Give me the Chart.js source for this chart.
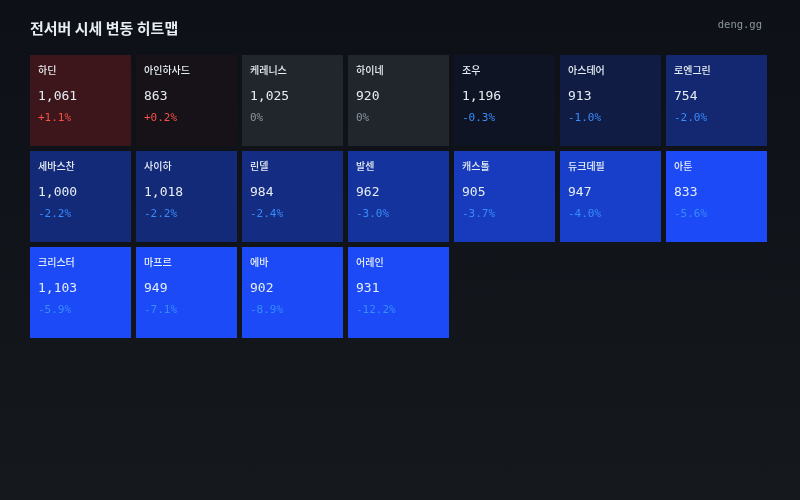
<!DOCTYPE html>
<html lang="ko">
<head>
<meta charset="utf-8">
<script src="https://cdn.jsdelivr.net/npm/chart.js@4.4.1/dist/chart.umd.min.js"></script>
<style>
    html, body { margin: 0; padding: 0; }
    body {
        width: 800px; height: 500px; overflow: hidden;
        background: linear-gradient(180deg, #0d1117 0%, #15181d 100%);
    }
    #heatmap { display: block; }
</style>
</head>
<body>
<canvas id="heatmap" width="800" height="500"></canvas>
<script>
const TITLE = '전서버 시세 변동 히트맵';
const SOURCE = 'deng.gg';

// servers, sorted by change (row-major, 7 per row)
const servers = ['하딘', '아인하사드', '케레니스', '하이네', '조우', '아스테어', '로엔그린',
    '세바스찬', '사이하', '린델', '발센', '캐스톨', '듀크데필', '아툰',
    '크리스터', '마프르', '에바', '어레인'];
const prices = [1061, 863, 1025, 920, 1196, 913, 754,
    1000, 1018, 984, 962, 905, 947, 833,
    1103, 949, 902, 931];
const changes = [1.1, 0.2, 0, 0, -0.3, -1.0, -2.0,
    -2.2, -2.2, -2.4, -3.0, -3.7, -4.0, -5.6,
    -5.9, -7.1, -8.9, -12.2];
const columns = ['1', '2', '3', '4', '5', '6', '7'];

const COLS = columns.length;
const ROWS = Math.ceil(servers.length / COLS);

const BASE = [13, 17, 23];
const BLUE = [27, 74, 246];
const RED = [230, 40, 40];

function mix(a, b, t) {
    const c = a.map((v, i) => Math.round(v + (b[i] - v) * t));
    return `rgb(${c[0]}, ${c[1]}, ${c[2]})`;
}

function tileColor(pct) {
    if (pct === 0) return '#21262d';
    const t = Math.min(Math.abs(pct) / 5, 1);
    return mix(BASE, pct > 0 ? RED : BLUE, t);
}

function changeColor(pct) {
    if (pct === 0) return '#8b949e';
    return pct > 0 ? '#f85149' : '#388bfd';
}

function fmtChange(pct) {
    if (pct === 0) return '0%';
    return (pct > 0 ? '+' : '') + pct.toFixed(1) + '%';
}

// one dataset per grid row, floating bars [row, row + cell]
const datasets = [];
for (let r = 0; r < ROWS; r++) {
    const data = [], colors = [];
    for (let c = 0; c < COLS; c++) {
        const i = r * COLS + c;
        if (i < servers.length) {
            data.push([r, r + 91 / 96]);
            colors.push(tileColor(changes[i]));
        } else {
            data.push(null);
            colors.push('transparent');
        }
    }
    datasets.push({
        data: data,
        backgroundColor: colors,
        borderWidth: 0,
        grouped: false,
        barPercentage: 1,
        categoryPercentage: 101 / 106
    });
}

const tileText = {
    id: 'tileText',
    afterDatasetsDraw(chart) {
        const ctx = chart.ctx;
        ctx.save();
        ctx.textBaseline = 'middle';
        ctx.textAlign = 'left';
        chart.data.datasets.forEach((ds, r) => {
            chart.getDatasetMeta(r).data.forEach((bar, c) => {
                const i = r * COLS + c;
                if (i >= servers.length) return;
                const p = bar.getProps(['x', 'y', 'base', 'width'], true);
                const left = p.x - p.width / 2 + 8;
                const top = Math.min(p.y, p.base);
                ctx.fillStyle = '#e6edf3';
                ctx.font = '500 10px "Noto Sans CJK KR", "Noto Sans", sans-serif';
                ctx.fillText(servers[i], left, top + 15.5);
                ctx.font = '13px "DejaVu Sans Mono", monospace';
                ctx.fillText(prices[i].toLocaleString('en-US'), left, top + 41.5);
                ctx.fillStyle = changeColor(changes[i]);
                ctx.font = '11px "DejaVu Sans Mono", monospace';
                ctx.fillText(fmtChange(changes[i]), left, top + 63.5);
            });
        });
        ctx.restore();
    },
    afterDraw(chart) {
        const ctx = chart.ctx;
        ctx.save();
        ctx.textBaseline = 'middle';
        ctx.fillStyle = '#e6edf3';
        ctx.font = 'bold 15px "Noto Sans CJK KR", "Noto Sans", sans-serif';
        ctx.textAlign = 'left';
        ctx.fillText(TITLE, 30, 28);
        ctx.fillStyle = '#8b949e';
        ctx.font = '10.5px "DejaVu Sans Mono", monospace';
        ctx.textAlign = 'right';
        ctx.fillText(SOURCE, 762, 25.5);
        ctx.restore();
    }
};

new Chart(document.getElementById('heatmap').getContext('2d'), {
    type: 'bar',
    data: { labels: columns, datasets: datasets },
    options: {
        responsive: false,
        animation: false,
        layout: { padding: { left: 27.5, right: 30.5, top: 55, bottom: 61 } },
        scales: {
            x: { display: false },
            y: { display: false, min: 0, max: 4, reverse: true }
        },
        plugins: { legend: { display: false }, tooltip: { enabled: false } }
    },
    plugins: [tileText]
});
</script>
</body>
</html>
